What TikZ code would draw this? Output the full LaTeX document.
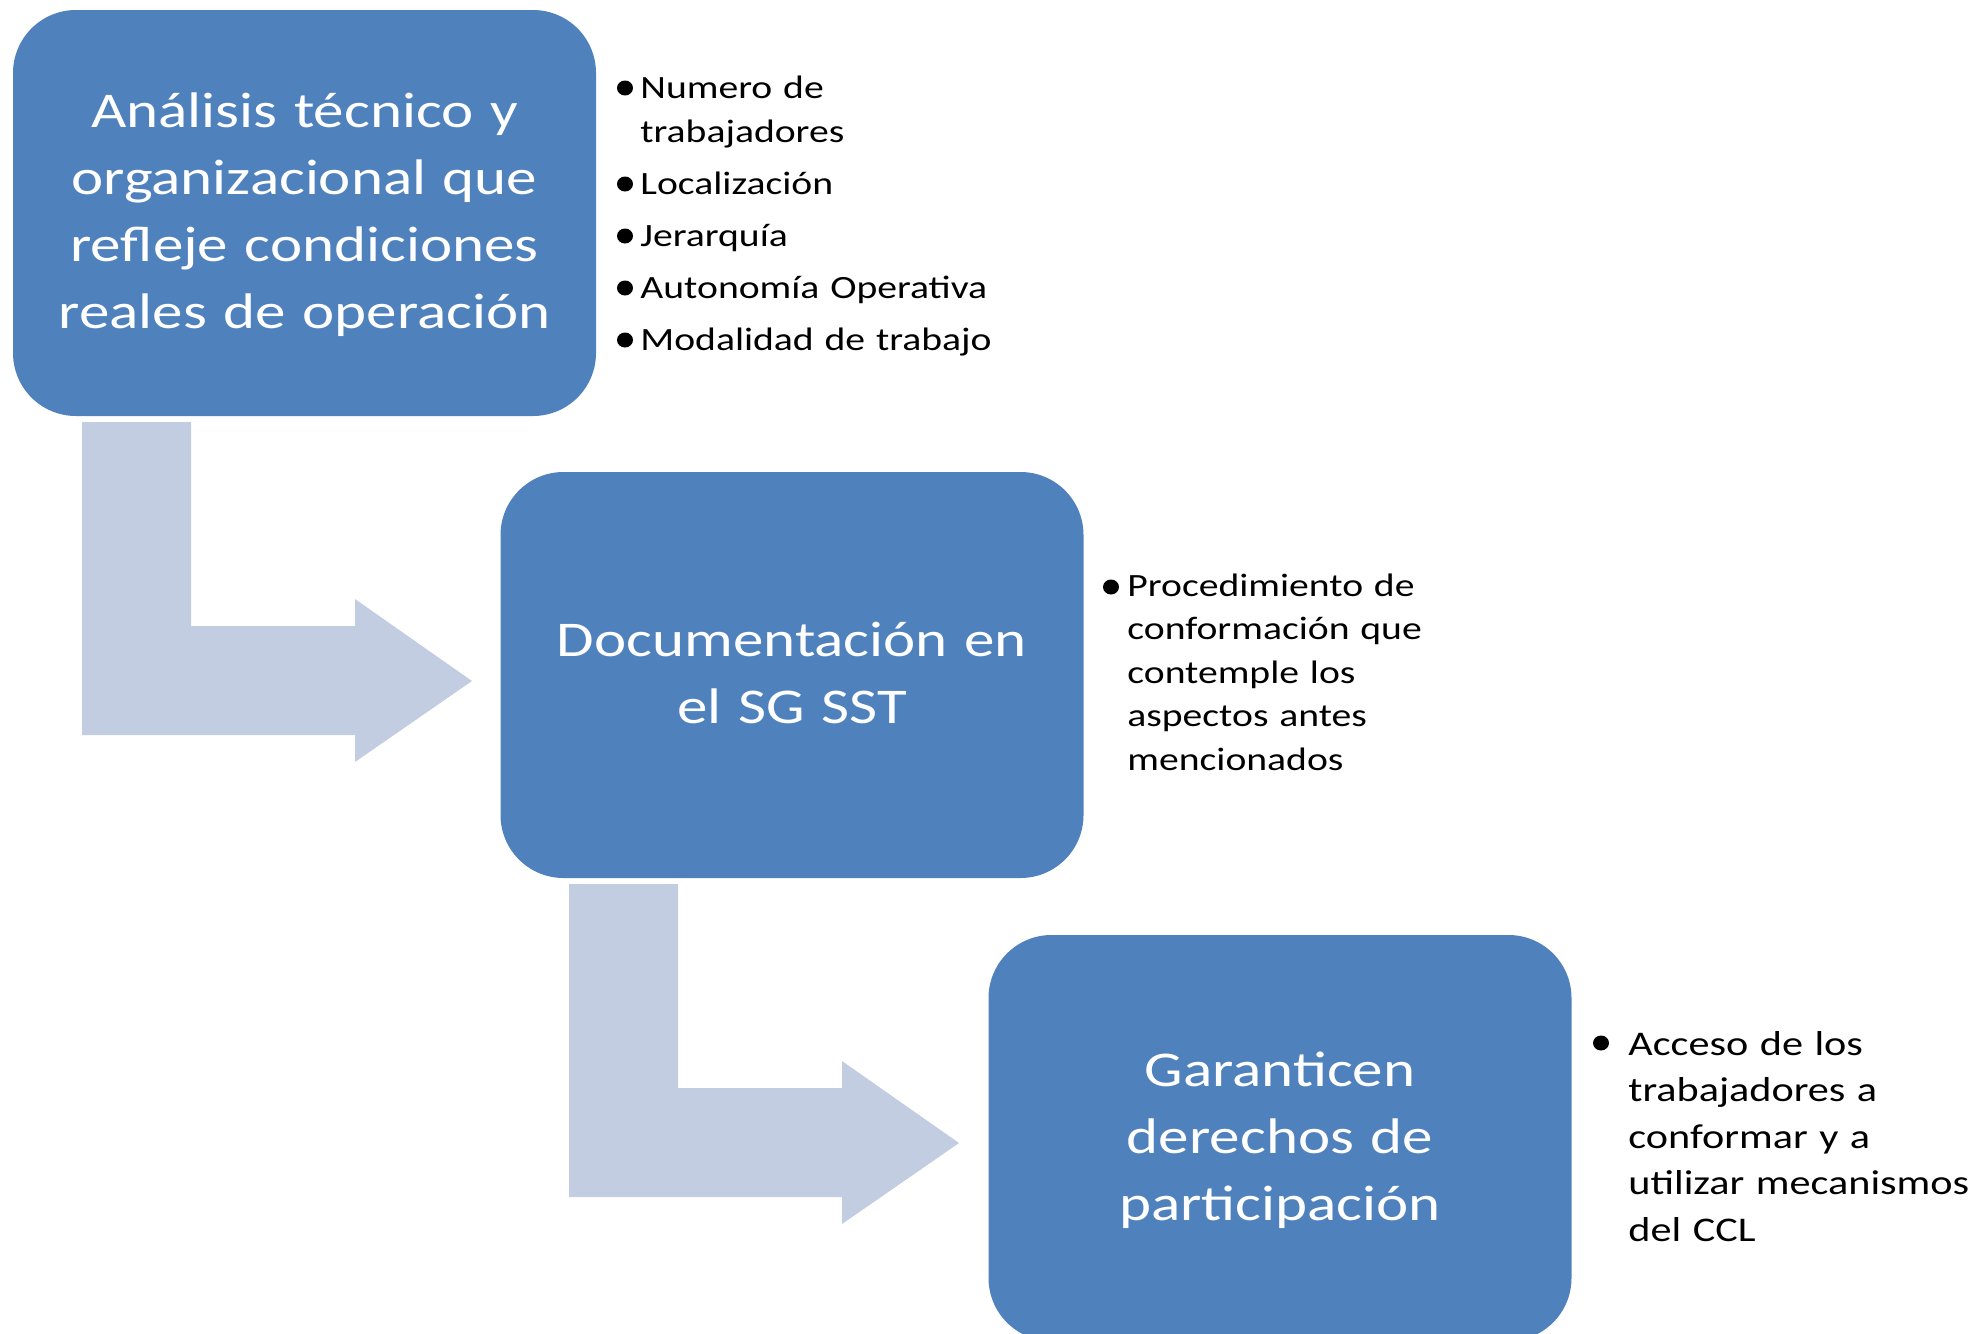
\documentclass[tikz,border=0pt]{standalone}
\usepackage{fontspec}
\usetikzlibrary{shapes.geometric}
\setmainfont{Carlito}[FakeStretch=1.22]
\definecolor{boxblue}{HTML}{4F81BD}
\definecolor{arrowfill}{HTML}{C3CDE2}
\begin{document}
\begin{tikzpicture}[x=0.5pt,y=-0.5pt,
  stepbox/.style={fill=boxblue, draw=none, rounded corners=31.5pt,
    minimum width=291.5pt, minimum height=203pt, inner sep=0pt},
  boxtext/.style={text=white, align=center, text width=285pt, inner sep=0pt,
    anchor=base, font=\fontsize{25pt}{33.5pt}\selectfont},
  bullist/.style={anchor=base west, inner sep=0pt, align=left, text width=190pt,
    font=\fontsize{16.25pt}{22pt}\selectfont},
  bullistbig/.style={anchor=base west, inner sep=0pt, align=left, text width=190pt,
    font=\fontsize{17.3pt}{23.3pt}\selectfont},
  bdot/.style={fill=black, draw=none, ellipse, inner sep=0pt, minimum width=8pt, minimum height=7.5pt},
  bendarrow/.style={fill=arrowfill, draw=none}]
\useasboundingbox (0,0) rectangle (1975,1333);
\clip (0,0) rectangle (1975,1333);

% bent arrows
\fill[bendarrow] (82,422) -- (191,422) -- (191,626) -- (355,626) -- (355,599)
  -- (472,681) -- (355,762) -- (355,735) -- (82,735) -- cycle;
\fill[bendarrow] (569,884) -- (678,884) -- (678,1088) -- (842,1088) -- (842,1061)
  -- (959,1143) -- (842,1224) -- (842,1197) -- (569,1197) -- cycle;

% boxes
\node[stepbox] (b1) at (304.5,213) {};
\node[stepbox] (b2) at (792,675) {};
\node[stepbox] (b3) at (1280,1138) {};

% box texts
\node[boxtext] (t1) at (304.5,127) {Análisis técnico y\\organizacional que\\refleje condiciones\\reales de operación};
\node[boxtext] (t2) at (792,656) {Documentación en\\el SG SST};
\node[boxtext] (t3) at (1280,1086) {Garanticen\\derechos de\\participación};

% bullet lists
\node[bullist] (l1) at (640,98) {\setlength{\parskip}{4pt}Numero de\\trabajadores\par Localización\par Jerarquía\par Autonomía Operativa\par Modalidad de trabajo};
\node[bullist, font=\fontsize{16.25pt}{21.75pt}\selectfont] (l2) at (1127,596) {Procedimiento de\\conformación que\\contemple los\\aspectos antes\\mencionados};
\node[bullistbig] (l3) at (1628,1055) {Acceso de los\\trabajadores a\\conformar y a\\utilizar mecanismos\\del CCL};

% bullets
\node[bdot] (d11) at (625,88) {};
\node[bdot] (d12) at (625,184) {};
\node[bdot] (d13) at (625,236) {};
\node[bdot] (d14) at (625,288) {};
\node[bdot] (d15) at (625,340) {};
\node[bdot] (d21) at (1111,587) {};
\node[bdot] (d31) at (1601,1043) {};
\end{tikzpicture}
\end{document}
